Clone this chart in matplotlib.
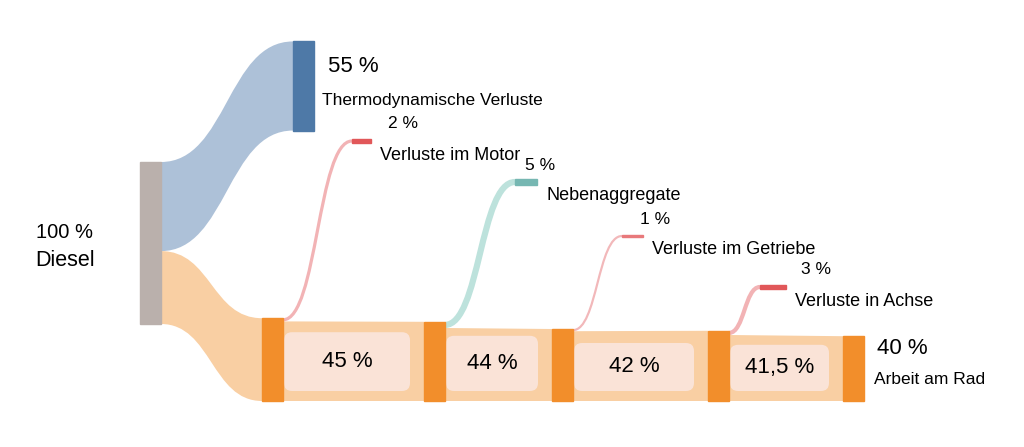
import matplotlib
matplotlib.use("Agg")
import matplotlib.pyplot as plt
from matplotlib.path import Path
from matplotlib.patches import PathPatch, Rectangle, FancyBboxPatch

plt.rcParams['font.family'] = ['Liberation Sans', 'DejaVu Sans']

# ---------------- data ----------------
source_label = "Diesel"
source_value = 100
thermo_label = "Thermodynamische Verluste"
thermo_value = 55
chain_values = [45, 44, 42, 41.5, 40]
end_label = "Arbeit am Rad"
loss_labels = ["Verluste im Motor", "Nebenaggregate", "Verluste im Getriebe", "Verluste in Achse"]
loss_values = [2, 5, 1, 3]

# ---------------- style / layout ----------------
C_SRC = "#bab0ac"
C_BLUE = "#4e79a7"
C_BLUE_FLOW = "#adc1d8"
C_ORANGE = "#f28e2b"
C_ORANGE_FLOW = "#f9cfa3"
C_BOX = "#fae3d7"
loss_node_colors = ["#e15759", "#76b7b2", "#e8797b", "#e15759"]
loss_flow_colors = ["#f2b3b5", "#bde2dc", "#f2b8ba", "#f2b3b5"]

k_split = 1.62            # px per % for the first split
k_chain, chain_base = 3.6, 22.0   # px per % above base for main chain
k_loss, loss_min = 1.0, 1.2       # px per % for losses (+ minimum)

src_x, node_w = 140, 21
src_center = 243
thermo_x, thermo_center = 293, 86
chain_x = [262, 424, 552, 708, 843]
chain_bottom = 401
loss_x = [352, 515, 622, 760]
loss_y = [141, 182, 236, 287]
loss_w = [19, 22, 21, 26]
loss_val_dx = [32, 3, 12, 30]

def pct(v):
    return f"{v:g}".replace(".", ",") + " %"

fig = plt.figure(figsize=(10.24, 4.47), dpi=100)
ax = fig.add_axes([0, 0, 1, 1])
ax.set_xlim(0, 1024)
ax.set_ylim(447, 0)
ax.axis("off")

def flow(x0, y0a, y0b, x1, y1a, y1b, color, z=1):
    xm = (x0 + x1) / 2
    verts = [(x0, y0a), (xm, y0a), (xm, y1a), (x1, y1a), (x1, y1b),
             (xm, y1b), (xm, y0b), (x0, y0b), (x0, y0a)]
    codes = [Path.MOVETO, Path.CURVE4, Path.CURVE4, Path.CURVE4, Path.LINETO,
             Path.CURVE4, Path.CURVE4, Path.CURVE4, Path.CLOSEPOLY]
    ax.add_patch(PathPatch(Path(verts, codes), facecolor=color, edgecolor="none", zorder=z))

def stroke(x0, y0, x1, y1, width_px, color, z=2):
    xm = (x0 + x1) / 2
    verts = [(x0, y0), (xm, y0), (xm, y1), (x1, y1)]
    codes = [Path.MOVETO, Path.CURVE4, Path.CURVE4, Path.CURVE4]
    ax.add_patch(PathPatch(Path(verts, codes), facecolor="none", edgecolor=color,
                           linewidth=width_px * 0.72, capstyle="butt", zorder=z))

# source node
src_h = source_value * k_split
src_top = src_center - src_h / 2
ax.add_patch(Rectangle((src_x, src_top), node_w, src_h, color=C_SRC, zorder=3))
ax.text(64, 232, pct(source_value), ha="center", va="center", fontsize=14.5)
ax.text(65, 260, source_label, ha="center", va="center", fontsize=15.5)

# thermo node + flow
th_h = thermo_value * k_split
th_top = thermo_center - th_h / 2
ax.add_patch(Rectangle((thermo_x, th_top), node_w, th_h, color=C_BLUE, zorder=3))
flow(src_x + node_w, src_top, src_top + th_h, thermo_x, th_top, th_top + th_h, C_BLUE_FLOW)
ax.text(thermo_x + 35, 67, pct(thermo_value), ha="left", va="center", fontsize=16)
ax.text(thermo_x + 29, 100, thermo_label, ha="left", va="center", fontsize=12.5)

# main chain
heights = [k_chain * (v - chain_base) for v in chain_values]
tops = [chain_bottom - h for h in heights]
first_h = chain_values[0] * k_split
flow(src_x + node_w, src_top + th_h, src_top + th_h + first_h,
     chain_x[0], tops[0], chain_bottom, C_ORANGE_FLOW)

for i, v in enumerate(chain_values):
    ax.add_patch(Rectangle((chain_x[i], tops[i]), node_w, heights[i], color=C_ORANGE, zorder=3))

for i in range(len(loss_values)):
    xr = chain_x[i] + node_w
    xl = chain_x[i + 1]
    t = loss_values[i] * k_loss + loss_min
    # band
    ax.add_patch(plt.Polygon([(xr, tops[i] + t), (xl, tops[i + 1]), (xl, chain_bottom),
                              (xr, chain_bottom)], closed=True, facecolor=C_ORANGE_FLOW,
                             edgecolor="none", zorder=1))
    # inner rounded box with value
    bx0, bx1 = xr + 1, xl - 14
    by0, by1 = tops[i] + 14, chain_bottom - 10
    ax.add_patch(FancyBboxPatch((bx0, by0), bx1 - bx0, by1 - by0,
                                boxstyle="round,pad=0,rounding_size=8",
                                facecolor=C_BOX, edgecolor="none", zorder=2))
    ax.text((bx0 + bx1) / 2, (by0 + by1) / 2, pct(chain_values[i]),
            ha="center", va="center", fontsize=16, zorder=4)
    # loss flow (stroked curve)
    ly = loss_y[i]
    stroke(xr, tops[i] + t / 2, loss_x[i], ly, t, loss_flow_colors[i])
    ax.add_patch(Rectangle((loss_x[i], ly - t / 2), loss_w[i], t,
                           color=loss_node_colors[i], zorder=3))
    xe = loss_x[i] + loss_w[i]
    ax.text(xe + loss_val_dx[i], ly - 17, pct(loss_values[i]), ha="center", va="center",
            fontsize=12.5)
    ax.text(xe + 9, ly + 14, loss_labels[i], ha="left", va="center", fontsize=13)

# end labels
xe = chain_x[-1] + node_w
ax.text(xe + 13, 348, pct(chain_values[-1]), ha="left", va="center", fontsize=16)
ax.text(xe + 10, 380, end_label, ha="left", va="center", fontsize=12.5)

fig.savefig("out.png", dpi=100)
